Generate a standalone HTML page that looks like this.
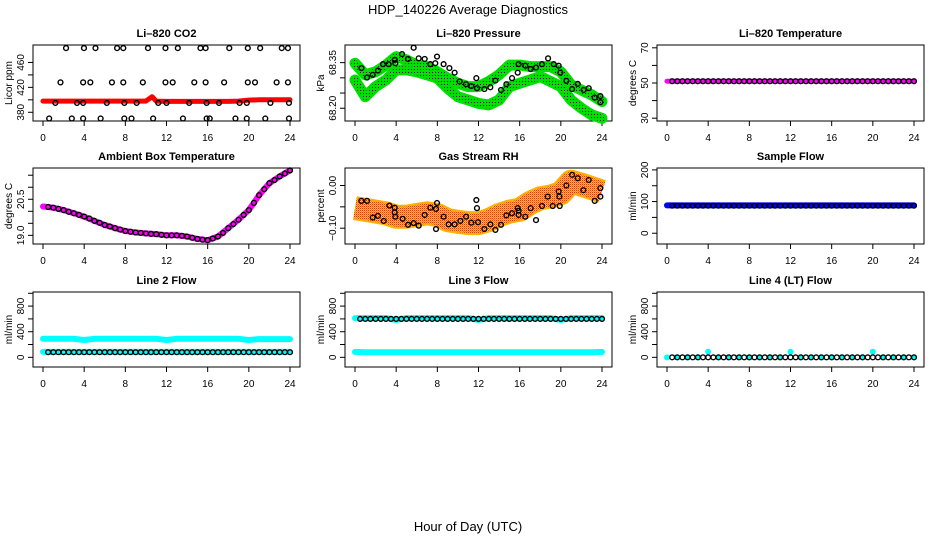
<!DOCTYPE html>
<html><head><meta charset="utf-8">
<style>
html,body{margin:0;padding:0;background:#fff;}
svg{display:block;font-family:"Liberation Sans",Arial,sans-serif;}
</style></head>
<body>
<svg id="chart" width="936" height="540" viewBox="0 0 936 540" xmlns="http://www.w3.org/2000/svg">
<defs>
<pattern id="greenDots" width="3" height="3" patternUnits="userSpaceOnUse"><rect width="3" height="3" fill="#00e000"/><rect width="1" height="1" fill="#000"/></pattern>
<pattern id="orangeDots" width="2" height="2" patternUnits="userSpaceOnUse"><rect width="2" height="2" fill="#ffd000"/><rect width="1" height="1" fill="#ff2000"/><rect x="1" y="1" width="1" height="1" fill="#ff8000"/></pattern>
</defs>
<text x="468" y="14" font-size="13" text-anchor="middle">HDP_140226  Average Diagnostics</text>
<text x="468" y="531" font-size="13" text-anchor="middle">Hour of Day (UTC)</text>
</svg>
<script>
// ---------- data ----------
const xTicks = [0,4,8,12,16,20,24];
const hours25 = [0,1,2,3,4,5,6,7,8,9,10,11,12,13,14,15,16,17,18,19,20,21,22,23,24];
const hours49 = [0,0.5,1,1.5,2,2.5,3,3.5,4,4.5,5,5.5,6,6.5,7,7.5,8,8.5,9,9.5,10,10.5,11,11.5,12,12.5,13,13.5,14,14.5,15,15.5,16,16.5,17,17.5,18,18.5,19,19.5,20,20.5,21,21.5,22,22.5,23,23.5,24];

// CO2
const co2RedHours = [0,1,2,3,4,5,6,7,8,9,10,10.6,11,12,13,14,15,16,17,18,19,20,21,22,23,24];
const co2RedVals = [398,398,398,398,398,398,398,398,398,398,398,405,398,397.5,397.5,397.5,397.5,397.5,397.5,397.5,398,399.5,400,400,400,400];
const co2BlackHours = [2.24,3.98,5.1,7.2,7.8,10.2,11.9,13.1,15.3,15.8,18.1,19.9,21.1,23.2,23.8,
  1.7,3.9,4.6,6.7,7.8,9.7,11.9,12.6,14.7,15.8,17.6,19.9,20.6,22.7,23.8,
  1.2,3.3,3.9,6.2,7.9,9.1,11.2,12.0,14.2,15.9,17.1,19.1,19.8,22.1,23.9,
  0.6,2.8,3.9,5.6,7.9,8.6,10.7,13.6,15.9,16.2,18.7,19.8,21.6,23.9];
const co2BlackVals = [483,483,483,483,483,483,483,483,483,483,483,483,483,483,483,
  428,428,428,428,428,428,428,428,428,428,428,428,428,428,428,
  395,395,395,395,395,395,395,395,395,395,395,395,395,395,395,
  370,370,370,370,370,370,370,370,370,370,370,370,370,370];

// Pressure
const presUpper = [68.348,68.31,68.32,68.342,68.37,68.359,68.342,68.337,68.32,68.299,68.282,68.271,68.271,68.288,68.31,68.342,68.342,68.337,68.337,68.337,68.32,68.277,68.26,68.244,68.222];
const presLower = [68.293,68.238,68.271,68.293,68.326,68.326,68.32,68.31,68.299,68.266,68.238,68.227,68.216,68.211,68.227,68.271,68.282,68.293,68.304,68.288,68.271,68.227,68.2,68.178,68.167];
const presBlackHours = [0.62,1.17,1.72,2.23,2.72,3.27,3.86,3.92,4.57,5.15,5.70,6.19,6.77,7.32,7.80,7.97,8.61,9.17,9.68,10.17,10.79,11.30,11.79,11.85,12.57,13.15,13.64,14.19,14.71,15.26,15.81,15.90,16.55,17.07,17.59,18.17,18.76,19.31,19.79,19.95,20.54,21.09,21.64,22.22,22.71,23.29,23.84,23.84];
const presBlackVals = [68.332,68.301,68.310,68.324,68.345,68.345,68.359,68.348,68.378,68.362,68.399,68.364,68.362,68.345,68.348,68.370,68.345,68.332,68.317,68.288,68.279,68.273,68.299,68.266,68.263,68.269,68.291,68.260,68.279,68.299,68.317,68.345,68.340,68.329,68.334,68.345,68.364,68.345,68.340,68.317,68.290,68.263,68.280,68.260,68.266,68.235,68.240,68.220];

// Li-820 temperature
const tempMagenta = [51,51,51,51,51,51,51,51,51,51,51,51,51,51,51,51,51,51,51,51,51,51,51,51,51];
const tempBlack = [51,51,51,51,51,51,51,51,51,51,51,51,51,51,51,51,51,51,51,51,51,51,51,51,51,51,51,51,51,51,51,51,51,51,51,51,51,51,51,51,51,51,51,51,51,51,51,51,51];

// Ambient box temperature
const ambMagenta = [20.2,20.15,20.05,19.92,19.78,19.6,19.43,19.3,19.18,19.12,19.08,19.05,19.0,19.0,18.95,18.85,18.8,18.95,19.3,19.65,20.05,20.67,21.17,21.45,21.7];
const ambBlack = [20.2,20.18,20.15,20.1,20.05,19.98,19.92,19.85,19.78,19.7,19.6,19.52,19.43,19.37,19.3,19.24,19.18,19.15,19.12,19.1,19.08,19.06,19.05,19.02,19.0,19.0,19.0,18.98,18.95,18.9,18.85,18.82,18.8,18.87,18.95,19.1,19.3,19.47,19.65,19.85,20.05,20.35,20.67,20.92,21.17,21.3,21.45,21.57,21.7];

// Gas stream RH
const rhCenter = [-0.053,-0.057,-0.061,-0.065,-0.073,-0.073,-0.069,-0.065,-0.069,-0.081,-0.085,-0.088,-0.088,-0.081,-0.069,-0.061,-0.057,-0.041,-0.030,-0.026,-0.018,0.009,0.002,-0.006,-0.014];
const rhBlackHours = [0.62,1.17,1.72,2.23,2.79,3.34,3.86,3.86,3.92,4.63,5.15,5.70,6.19,6.77,7.32,7.87,7.97,7.87,8.61,9.10,9.68,10.24,10.79,11.30,11.79,11.85,11.95,12.57,13.15,13.64,14.19,14.71,15.26,15.81,15.90,15.90,16.55,17.07,17.59,18.17,18.72,19.21,19.79,19.86,19.89,20.54,21.09,21.64,22.19,22.71,23.29,23.84,23.84];
const rhBlackVals = [-0.036,-0.036,-0.075,-0.071,-0.083,-0.047,-0.052,-0.063,-0.073,-0.078,-0.092,-0.088,-0.094,-0.069,-0.052,-0.055,-0.041,-0.102,-0.073,-0.091,-0.091,-0.083,-0.073,-0.087,-0.034,-0.053,-0.086,-0.102,-0.091,-0.104,-0.092,-0.070,-0.065,-0.053,-0.059,-0.069,-0.073,-0.053,-0.081,-0.048,-0.026,-0.048,-0.014,-0.026,-0.048,0.000,0.025,0.017,-0.011,0.013,-0.036,-0.006,-0.026];

// Sample flow
const sampleBlue = [88,88,88,88,88,88,88,88,88,88,88,88,88,88,88,88,88,88,88,88,88,88,88,88,88];
const sampleBlack = [87,87,87,87,87,87,87,87,87,87,87,87,87,87,87,87,87,87,87,87,87,87,87,87,87,87,87,87,87,87,87,87,87,87,87,87,87,87,87,87,87,87,87,87,87,87,87,87,87];

// Line 2 flow
const l2CyanHi = [290,290,290,290,270,290,290,290,290,290,290,290,270,290,290,290,290,290,290,290,270,285,285,285,285];
const l2CyanLo = [85,85,85,85,85,85,85,85,85,85,85,85,85,85,85,85,85,85,85,85,85,85,85,85,85];
const l2Black = [80,80,80,80,80,80,80,80,80,80,80,80,80,80,80,80,80,80,80,80,80,80,80,80,80,80,80,80,80,80,80,80,80,80,80,80,80,80,80,80,80,80,80,80,80,80,80,80,80];

// Line 3 flow
const l3CyanHi = [612,612,612,612,585,612,612,612,612,612,612,612,585,612,612,612,612,612,612,612,585,612,612,612,612];
const l3CyanLo = [85,80,80,80,80,80,80,80,80,80,80,80,80,80,80,80,80,80,80,80,80,80,80,80,85];
const l3Black = [600,600,600,600,600,600,600,600,600,600,600,600,600,600,600,600,600,600,600,600,600,600,600,600,600,600,600,600,600,600,600,600,600,600,600,600,600,600,600,600,600,600,600,600,600,600,600,600,600];

// Line 4 flow
const l4Cyan = [0,0,0,0,88,0,0,0,0,0,0,0,88,0,0,0,0,0,0,0,88,0,0,0,0];
const l4Black = [0,0,0,0,0,0,0,0,0,0,0,0,0,0,0,0,0,0,0,0,0,0,0,0,0,0,0,0,0,0,0,0,0,0,0,0,0,0,0,0,0,0,0,0,0,0,0,0,0];

// ---------- drawing ----------
const NS = 'http://www.w3.org/2000/svg';
const svg = document.getElementById('chart');
const rowTop = [45,168,292], rowBot = [121,244,367];

function mk(tag, attrs, parent){
  const e = document.createElementNS(NS, tag);
  for (const k in attrs) e.setAttribute(k, attrs[k]);
  (parent||svg).appendChild(e);
  return e;
}

function panel(name, col, row, title, ylab, lo, hi, ticks, labels){
  const g = mk('g', {});
  
  
  const L = 33 + 312*col, R = 300 + 312*col, T = rowTop[row], B = rowBot[row];
  const x0 = L + 10, x1 = R - 10;
  const xs = h => x0 + (x1 - x0) * h / 24;
  const ys = v => B - (B - T) * (v - lo) / (hi - lo);
  const t = mk('text', {x:(L+R)/2, y:T-8, 'font-size':11, 'font-weight':'bold', 'text-anchor':'middle'}, g);
  t.textContent = title;
  
  
  const yl = mk('text', {x:0, y:0, 'font-size':10, 'text-anchor':'middle', transform:`translate(${L-21},${(T+B)/2}) rotate(-90)`}, g);
  yl.textContent = ylab;
  
  
  const xa = mk('g', {stroke:'#000','stroke-width':1}, g);
  
  
  mk('line', {x1:xs(0), x2:xs(24), y1:B, y2:B}, xa);
  xTicks.forEach(h => {
    mk('line', {x1:xs(h), x2:xs(h), y1:B, y2:B+5}, xa);
    const tl = mk('text', {x:xs(h), y:B+20, 'font-size':10, 'text-anchor':'middle', stroke:'none'}, g);
    tl.textContent = h;
    
    
  });
  const ya = mk('g', {stroke:'#000','stroke-width':1}, g);
  
  
  mk('line', {x1:L, x2:L, y1:ys(ticks[0]), y2:ys(ticks[ticks.length-1])}, ya);
  ticks.forEach(v => mk('line', {x1:L-5, x2:L, y1:ys(v), y2:ys(v)}, ya));
  labels.forEach(lb => {
    const tl = mk('text', {x:0, y:0, 'font-size':10, 'text-anchor':'middle', transform:`translate(${L-9},${ys(lb.v)}) rotate(-90)`}, g);
    tl.textContent = lb.t;
    
    
  });
  const box = mk('rect', {x:L, y:T, width:R-L, height:B-T, fill:'none', stroke:'#000', 'stroke-width':1}, g);
  
  
  const clip = mk('g', {}, g);
  return {g:clip, xs, ys};
}

function band(p, hrs, vals, color, width, name, cap){
  const pts = hrs.map((h,i) => p.xs(h).toFixed(1) + ',' + p.ys(vals[i]).toFixed(1)).join(' ');
  const pl = mk('polyline', {points:pts, fill:'none', stroke:color, 'stroke-width':width, 'stroke-linecap':cap||'round', 'stroke-linejoin':'round'}, p.g);
  
  
}
function dots(p, hrs, vals, color, r, name){
  hrs.forEach((h,i) => {
    const c = mk('circle', {cx:p.xs(h), cy:p.ys(vals[i]), r:r, fill:color}, p.g);
    
    
  });
}
function rings(p, hrs, vals, name){
  hrs.forEach((h,i) => {
    const c = mk('circle', {cx:p.xs(h), cy:p.ys(vals[i]), r:2.4, fill:'none', stroke:'#000', 'stroke-width':1.4}, p.g);
    
    
  });
}
const blackHours49 = hours49.slice(1);

let p = panel('co2', 0, 0, 'Li\u2013820 CO2', 'Licor ppm', 366, 488, [380,400,420,440,460], [{v:380,t:'380'},{v:420,t:'420'},{v:460,t:'460'}]);
band(p, co2RedHours, co2RedVals, '#ff0000', 5, 'co2-red-series');
rings(p, co2BlackHours, co2BlackVals, 'co2-black-point');

p = panel('pressure', 1, 0, 'Li\u2013820 Pressure', 'kPa', 68.158, 68.408, [68.20,68.25,68.30,68.35], [{v:68.20,t:'68.20'},{v:68.35,t:'68.35'}]);
band(p, hours25, presUpper, '#00e000', 11, 'pressure-green-upper-outline');
band(p, hours25, presLower, '#00e000', 11, 'pressure-green-lower-outline');
band(p, hours25, presUpper, 'url(#greenDots)', 7, 'pressure-green-upper');
band(p, hours25, presLower, 'url(#greenDots)', 7, 'pressure-green-lower');
rings(p, presBlackHours, presBlackVals, 'pressure-black-point');

p = panel('li820-temp', 2, 0, 'Li\u2013820 Temperature', 'degrees C', 28.4, 71.6, [30,40,50,60,70], [{v:30,t:'30'},{v:50,t:'50'},{v:70,t:'70'}]);
band(p, hours25, tempMagenta, '#ff00ff', 5, 'temp-magenta-series');
rings(p, blackHours49, tempBlack.slice(1), 'temp-black-point');

p = panel('ambient-temp', 0, 1, 'Ambient Box Temperature', 'degrees C', 18.64, 21.8, [19.0,19.5,20.0,20.5,21.0,21.5], [{v:19.0,t:'19.0'},{v:20.5,t:'20.5'}]);
band(p, hours25, ambMagenta, '#ff00ff', 6, 'ambient-magenta-series');
rings(p, blackHours49, ambBlack.slice(1), 'ambient-black-point');

p = panel('rh', 1, 1, 'Gas Stream RH', 'percent', -0.137, 0.041, [-0.10,-0.05,0.00], [{v:-0.10,t:'\u22120.10'},{v:0.00,t:'0.00'}]);
band(p, hours25, rhCenter, '#ffb000', 24, 'rh-cloud-outline', 'butt');
band(p, hours25, rhCenter, 'url(#orangeDots)', 20, 'rh-cloud', 'butt');
rings(p, rhBlackHours, rhBlackVals, 'rh-black-point');

p = panel('sample-flow', 2, 1, 'Sample Flow', 'ml/min', -34, 206, [0,50,100,150,200], [{v:0,t:'0'},{v:100,t:'100'},{v:200,t:'200'}]);
band(p, hours25, sampleBlue, '#0000ff', 6, 'sample-blue-series');
rings(p, blackHours49, sampleBlack.slice(1), 'sample-black-point');

const flowTicks = [0,200,400,600,800,1000], flowLabels = [{v:0,t:'0'},{v:400,t:'400'},{v:800,t:'800'}];
p = panel('line2-flow', 0, 2, 'Line 2 Flow', 'ml/min', -151, 1020, flowTicks, flowLabels);
band(p, hours25, l2CyanHi, '#00ffff', 6, 'line2-cyan-high');
band(p, hours25, l2CyanLo, '#00ffff', 6, 'line2-cyan-low');
rings(p, blackHours49, l2Black.slice(1), 'line2-black-point');

p = panel('line3-flow', 1, 2, 'Line 3 Flow', 'ml/min', -151, 1020, flowTicks, flowLabels);
band(p, hours25, l3CyanHi, '#00ffff', 6, 'line3-cyan-high');
band(p, hours25, l3CyanLo, '#00ffff', 6, 'line3-cyan-low');
rings(p, blackHours49, l3Black.slice(1), 'line3-black-point');

p = panel('line4-flow', 2, 2, 'Line 4 (LT) Flow', 'ml/min', -151, 1020, flowTicks, flowLabels);
dots(p, hours25, l4Cyan, '#00ffff', 3, 'line4-cyan-point');
rings(p, blackHours49, l4Black.slice(1), 'line4-black-point');
</script>
</body></html>
